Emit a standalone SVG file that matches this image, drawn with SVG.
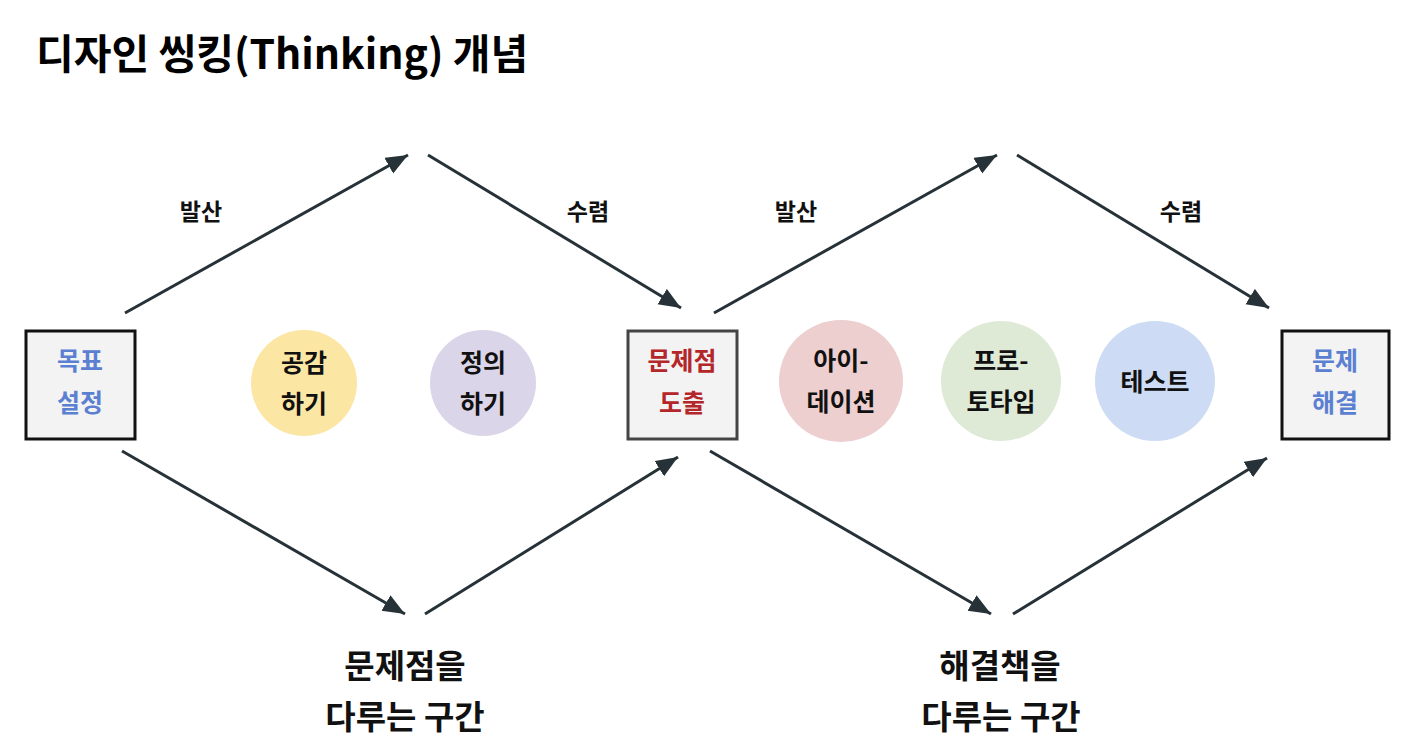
<svg xmlns="http://www.w3.org/2000/svg" width="1420" height="752" viewBox="0 0 1420 752">
<defs>
<marker id="ah" markerUnits="userSpaceOnUse" markerWidth="24" markerHeight="20" refX="22" refY="9" orient="auto">
<path d="M0,0 L22,9 L0,18 Z" fill="#263238"/>
</marker>
<style>
.t{font-family:"Noto Sans CJK KR","Noto Sans",sans-serif;font-weight:700;text-anchor:middle;dominant-baseline:central}
.lab{font-size:23px;fill:#111}
.nd{font-size:25px;fill:#111}
.blue{fill:#5b80d2}
.red{fill:#b3262a}
.big{font-size:33px;fill:#111}
.conn{stroke:#263238;stroke-width:3;fill:none;marker-end:url(#ah)}
.box{fill:#f3f3f3;stroke:#111;stroke-width:3}
</style>
</defs>
<rect width="1420" height="752" fill="#fff"/>
<text x="36" y="51" class="t" style="font-size:41px;text-anchor:start;fill:#000">디자인 씽킹(Thinking) 개념</text>

<g id="connectors">
<line class="conn" x1="125" y1="313" x2="408" y2="155"/>
<line class="conn" x1="428" y1="155" x2="681" y2="308"/>
<line class="conn" x1="122" y1="451" x2="405" y2="614"/>
<line class="conn" x1="425" y1="614" x2="678" y2="457"/>
<line class="conn" x1="714" y1="313" x2="997" y2="155"/>
<line class="conn" x1="1017" y1="155" x2="1269" y2="308"/>
<line class="conn" x1="710" y1="451" x2="991" y2="614"/>
<line class="conn" x1="1013" y1="614" x2="1267" y2="458"/>
<text x="201" y="210" class="t lab">발산</text>
<text x="588" y="210" class="t lab">수렴</text>
<text x="796" y="210" class="t lab">발산</text>
<text x="1181" y="210" class="t lab">수렴</text>
</g>

<g id="goal">
<rect class="box" x="26" y="331" width="109" height="108"/>
<text x="80" y="359" class="t nd blue">목표</text>
<text x="80" y="401" class="t nd blue">설정</text>
</g>
<g id="empathize">
<circle cx="304" cy="383" r="53" fill="#fce6a4"/>
<text x="304" y="361" class="t nd">공감</text>
<text x="304" y="402" class="t nd">하기</text>
</g>
<g id="define">
<circle cx="483" cy="383" r="53" fill="#dad5e8"/>
<text x="483" y="361" class="t nd">정의</text>
<text x="483" y="402" class="t nd">하기</text>
</g>
<g id="problem">
<rect x="628" y="331" width="109" height="108" fill="#f3f3f3" stroke="#444" stroke-width="3"/>
<text x="682" y="359" class="t nd red">문제점</text>
<text x="682" y="401" class="t nd red">도출</text>
</g>
<g id="ideation">
<ellipse cx="841" cy="381" rx="62" ry="61" fill="#edcfd0"/>
<text x="841" y="359" class="t nd">아이-</text>
<text x="841" y="400" class="t nd">데이션</text>
</g>
<g id="prototype">
<ellipse cx="1001" cy="381" rx="60" ry="60" fill="#deead6"/>
<text x="1001" y="359" class="t nd">프로-</text>
<text x="1001" y="400" class="t nd">토타입</text>
</g>
<g id="test">
<ellipse cx="1155" cy="381" rx="60" ry="60" fill="#cddcf4"/>
<text x="1155" y="380" class="t nd">테스트</text>
</g>
<g id="solution">
<rect class="box" x="1282" y="331" width="107" height="108"/>
<text x="1335" y="359" class="t nd blue">문제</text>
<text x="1335" y="401" class="t nd blue">해결</text>
</g>
<g id="section1">
<text x="405" y="664" class="t big">문제점을</text>
<text x="405" y="715" class="t big">다루는 구간</text>
</g>
<g id="section2">
<text x="1000" y="664" class="t big">해결책을</text>
<text x="1001" y="715" class="t big">다루는 구간</text>
</g>
</svg>
